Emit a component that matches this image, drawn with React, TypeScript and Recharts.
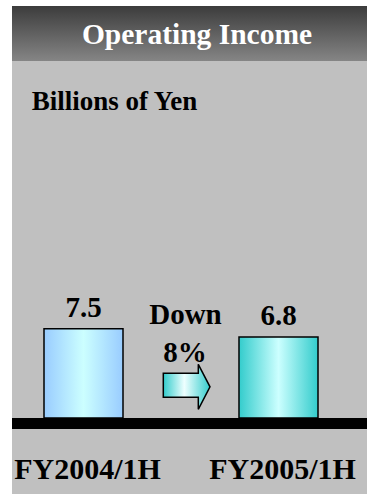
import React from "react";
import { BarChart, Bar, XAxis, YAxis, Cell, LabelList, ReferenceArea } from "recharts";

const categories = ["FY2004/1H", "FY2005/1H"];
const values = [7.5, 6.8];
const fills = ["url(#gradBlue)", "url(#gradTeal)"];
const changeText = ["Down", "8%"];
const title = "Operating Income";
const unitLabel = "Billions of Yen";

const FONT = "'Liberation Serif', 'Times New Roman', serif";

const data = categories.map((name, i) => ({ name, value: values[i] }));

function Tick(props: any) {
  const { x, y, payload } = props;
  return (
    <text x={x + 4} y={y + 48} textAnchor="middle" fontFamily={FONT} fontWeight="bold" fontSize={30} fill="#000">
      {payload.value}
    </text>
  );
}

export default function App() {
  return (
    <div style={{ position: "absolute", left: 12, top: 6, width: 355, height: 488, background: "#C0C0C0", overflow: "hidden" }}>
      <svg width={0} height={0} style={{ position: "absolute" }}>
        <defs>
          <linearGradient id="gradBlue" x1="0" y1="0" x2="1" y2="0">
            <stop offset="0%" stopColor="#99CCFF" />
            <stop offset="50%" stopColor="#CCFFFF" />
            <stop offset="100%" stopColor="#99CCFF" />
          </linearGradient>
          <linearGradient id="gradTeal" x1="0" y1="0" x2="1" y2="0">
            <stop offset="0%" stopColor="#33CCCC" />
            <stop offset="50%" stopColor="#CCFFFF" />
            <stop offset="100%" stopColor="#33CCCC" />
          </linearGradient>
          <linearGradient id="gradArrow" x1="0" y1="0" x2="1" y2="0">
            <stop offset="0%" stopColor="#33CCCC" />
            <stop offset="45%" stopColor="#EEFFFF" />
            <stop offset="100%" stopColor="#33CCCC" />
          </linearGradient>
        </defs>
      </svg>

      <div style={{ position: "absolute", left: 0, top: 0, width: 355, height: 55, background: "linear-gradient(#3c3c3c, #858585)" }} />

      <div style={{ position: "absolute", left: -26, top: 0 }}>
        <BarChart width={390} height={488} data={data} margin={{ top: 293, right: 0, bottom: 0, left: 0 }}>
          <YAxis hide domain={[-0.92, 10]} />
          <XAxis dataKey="name" axisLine={false} tickLine={false} tickSize={0} height={65} tick={<Tick />} interval={0} />
          <ReferenceArea y1={-0.92} y2={0} fill="#000" fillOpacity={1} stroke="none" ifOverflow="visible" />
          <Bar dataKey="value" barSize={79} stroke="#000" strokeWidth={1.5} isAnimationActive={false}>
            {data.map((d, i) => (
              <Cell key={d.name} fill={fills[i]} />
            ))}
            <LabelList dataKey="value" position="top" offset={12} fill="#000" fontSize={29} fontWeight="bold" fontFamily={FONT} />
          </Bar>
        </BarChart>
      </div>

      <svg width={355} height={488} style={{ position: "absolute", left: 0, top: 0, pointerEvents: "none" }}>
        <text x={185} y={37.5} textAnchor="middle" fontFamily={FONT} fontWeight="bold" fontSize={29.5} fill="#fff">
          {title}
        </text>
        <text x={19.7} y={104} fontFamily={FONT} fontWeight="bold" fontSize={27} fill="#000">
          {unitLabel}
        </text>
        <text x={173.5} y={318} textAnchor="middle" fontFamily={FONT} fontWeight="bold" fontSize={29} fill="#000">
          {changeText[0]}
        </text>
        <text x={173} y={355.7} textAnchor="middle" fontFamily={FONT} fontWeight="bold" fontSize={29} fill="#000">
          {changeText[1]}
        </text>
        <path
          d="M151.3,367.3 L186.3,367.3 L186.3,358.3 L198,380.8 L186.3,403.3 L186.3,391.3 L151.3,391.3 Z"
          fill="url(#gradArrow)"
          stroke="#000"
          strokeWidth={1.5}
        />
      </svg>
    </div>
  );
}
